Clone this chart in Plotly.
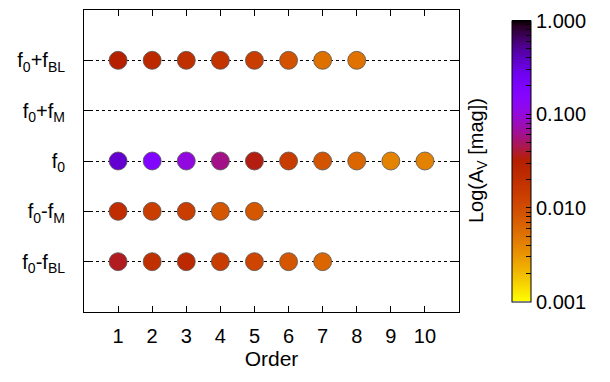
import math
import plotly.graph_objects as go

# ---- data ----
orders = list(range(1, 11))
row_labels = ["f<sub>0</sub>-f<sub>BL</sub>", "f<sub>0</sub>-f<sub>M</sub>", "f<sub>0</sub>",
              "f<sub>0</sub>+f<sub>M</sub>", "f<sub>0</sub>+f<sub>BL</sub>"]
row_pos = [1, 2, 3, 4, 5]

# log10 amplitudes (mag)
logA_f0_minus_fBL = [-1.44, -1.71, -1.62, -1.85, -1.94, -2.085, -2.21]
logA_f0_minus_fM = [-1.69, -1.86, -1.86, -2.085, -2.10]
logA_f0 = [-0.46, -0.756, -0.99, -1.23, -1.47, -1.85, -2.07, -2.21, -2.40, -2.385]
logA_f0_plus_fM = []
logA_f0_plus_fBL = [-1.50, -1.62, -1.71, -1.755, -1.86, -2.055, -2.28, -2.295]

series = [logA_f0_minus_fBL, logA_f0_minus_fM, logA_f0, logA_f0_plus_fM, logA_f0_plus_fBL]

cbar_tickvals = [-3, -2, -1, 0]
cbar_ticktext = ["0.001", "0.010", "0.100", "1.000"]

# ---- gnuplot default palette (rgbformulae 7,5,15), reversed ----
def pal(x):
    r = math.sqrt(x)
    g = x ** 3
    b = max(0.0, math.sin(2 * math.pi * x))
    return "rgb(%d,%d,%d)" % (round(r * 255), round(g * 255), round(b * 255))

N = 48
colorscale = [[i / N, pal(1 - i / N)] for i in range(N + 1)]

xs, ys, cs = [], [], []
for pos, vals in zip(row_pos, series):
    for o, v in zip(orders, vals):
        xs.append(o)
        ys.append(pos)
        cs.append(v)

# minor log ticks for colorbar
minor = []
for d in (-3, -2, -1):
    for k in range(2, 10):
        minor.append(d + math.log10(k))
cb_vals = cbar_tickvals + minor
cb_text = cbar_ticktext + [""] * len(minor)

FONT = "Liberation Sans, Arial, Helvetica, sans-serif"
FS = 20

fig = go.Figure()
fig.add_trace(go.Scatter(
    x=xs, y=ys, mode="markers",
    marker=dict(size=18, color=cs, colorscale=colorscale, cmin=-3, cmax=0,
                line=dict(width=0.8, color="#555555"),
                colorbar=dict(
                    x=1.1147, xanchor="left", xref="paper",
                    y=0.5, yanchor="middle", len=301, lenmode="pixels",
                    thickness=19, outlinewidth=1, outlinecolor="black",
                    tickmode="array", tickvals=cb_vals, ticktext=cb_text,
                    ticks="inside", ticklen=5, tickcolor="black",
                    tickfont=dict(size=FS, color="black", family=FONT),
                )),
    showlegend=False, hoverinfo="skip",
))

fig.add_annotation(text="Log(A<sub>V</sub> [mag])", xref="paper", yref="paper",
                   x=(477 - 84) / 375, y=0.5, textangle=-90, showarrow=False,
                   xanchor="center", yanchor="middle",
                   font=dict(size=FS, color="black", family=FONT))

fig.update_layout(
    width=610, height=382,
    margin=dict(l=84, r=151, t=10, b=70, autoexpand=False),
    paper_bgcolor="white", plot_bgcolor="white",
    font=dict(family=FONT, size=FS, color="black"),
    xaxis=dict(range=[0, 11], tickmode="array", tickvals=orders,
               ticks="inside", ticklen=6, tickcolor="black",
               showline=True, linecolor="black", linewidth=1, mirror="ticks",
               showgrid=False, zeroline=False, ticklabelstandoff=6,
               title=dict(text="Order", standoff=5, font=dict(size=21))),
    yaxis=dict(range=[0, 6], tickmode="array", tickvals=row_pos, ticktext=row_labels,
               ticks="inside", ticklen=6, tickcolor="black",
               showline=True, linecolor="black", linewidth=1, mirror="ticks",
               showgrid=True, gridcolor="black", gridwidth=1, griddash="dot",
               zeroline=False, ticklabelstandoff=14),
)

fig.write_html("out.html",
               config={"displayModeBar": False, "staticPlot": True},
               post_script="document.body.style.margin='0';document.body.style.overflow='hidden';")
